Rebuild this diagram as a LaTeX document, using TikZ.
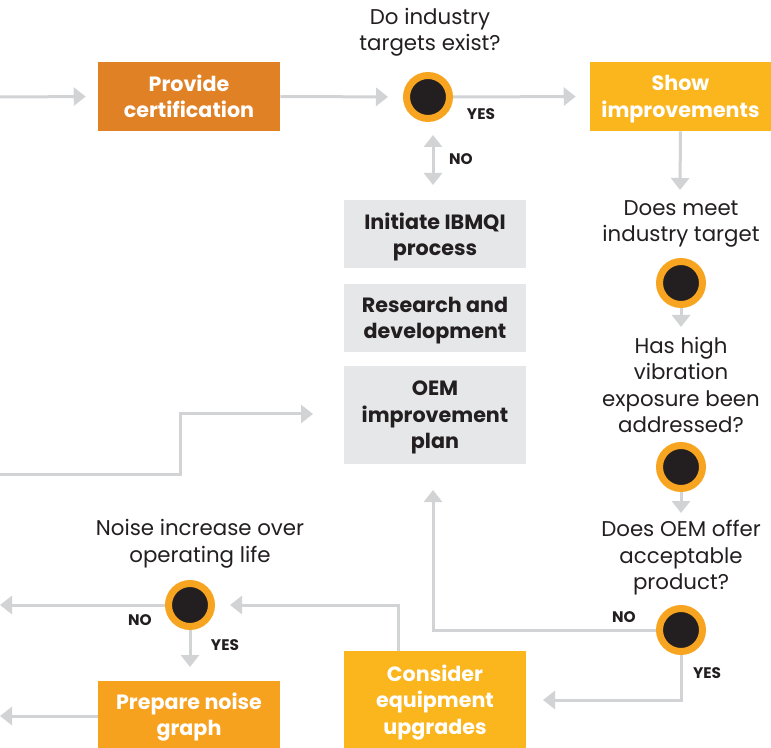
\documentclass[tikz,border=0pt]{standalone}
\usepackage{fontspec}
\setmainfont{Poppins}
\usetikzlibrary{arrows.meta}
\definecolor{arrgray}{HTML}{D1D3D4}
\definecolor{boxgray}{HTML}{E6E7E8}
\definecolor{darktext}{HTML}{231F20}
\definecolor{certorange}{HTML}{E08126}
\definecolor{yelloworange}{HTML}{FBB51D}
\definecolor{noiseorange}{HTML}{F7A21F}
\definecolor{ringorange}{HTML}{F7A521}
\tikzset{
  arr/.style={draw=arrgray, line width=2.25pt, -{Triangle[length=9pt,width=13.5pt]}},
  dblarr/.style={draw=arrgray, line width=2.25pt, {Triangle[length=9pt,width=13.5pt]}-{Triangle[length=9pt,width=13.5pt]}},
  box/.style={rectangle, inner sep=0pt, minimum width=136.5pt, align=center, text=white, text depth=0pt, font=\fontsize{15.5}{19.8}\selectfont\bfseries},
  graybox/.style={box, fill=boxgray, text=darktext},
  decision/.style={circle, fill=darktext, draw=ringorange, line width=5.25pt, minimum size=32.25pt, inner sep=0pt, outer sep=2.625pt},
  question/.style={align=center, text=darktext, font=\fontsize{16}{19.9}\selectfont},
  answer/.style={text=darktext, font=\fontsize{11.5}{13}\selectfont\bfseries, inner sep=0pt}
}
\begin{document}
\begin{tikzpicture}[x=0.75pt,y=-0.75pt]
\useasboundingbox (0,0) rectangle (771,748);
% boxes
\node[box, fill=certorange, minimum height=51.75pt] (provide) at (189,96.5) {Provide\\certification};
\node[box, fill=yelloworange, minimum height=51.75pt, minimum width=135.75pt] (show) at (680.5,96.5) {Show\\improvements};
\node[graybox, minimum height=51pt] (initiate) at (435,234) {Initiate IBMQI\\process};
\node[graybox, minimum height=51pt] (research) at (435,318) {Research and\\development};
\node[graybox, minimum height=73.5pt] (oem) at (435,415) {OEM\\improvement\\plan};
\node[box, fill=yelloworange, minimum height=72.75pt] (consider) at (435,699.5) {Consider\\equipment\\upgrades};
\node[box, fill=noiseorange, minimum height=50.25pt] (prepare) at (189,714.5) {Prepare noise\\graph};
% decisions
\node[decision] (c1) at (428,97) {};
\node[decision] (c2) at (681,283) {};
\node[decision] (c3) at (681,467) {};
\node[decision] (c4) at (681,630) {};
\node[decision] (c5) at (190,605) {};
% questions
\node[question] (q1) at (430,32.5) {Do industry\\targets exist?};
\node[question] (q2) at (681,224) {Does meet\\industry target};
\node[question] (q3) at (681,385) {Has high\\vibration\\exposure been\\addressed?};
\node[question] (q4) at (681,558) {Does OEM offer\\acceptable\\product?};
\node[question] (q5) at (200,544) {Noise increase over\\operating life};
% answers
\node[answer] (yes1) at (481,114.5) {YES};
\node[answer] (no1) at (461,159) {NO};
\node[answer] (no4) at (624,617) {NO};
\node[answer] (yes4) at (707,673.5) {YES};
\node[answer] (no5) at (140,620.5) {NO};
\node[answer] (yes5) at (225,645) {YES};
% free-end coordinates
\coordinate (inL) at (0,97);
\coordinate (showTip) at (680,190);
\coordinate (dblTop) at (433,135);
\coordinate (dblBot) at (433,185);
\coordinate (c2Tip) at (681,327);
\coordinate (c3Tip) at (681,513);
\coordinate (oemTip) at (433,490);
\coordinate (c4Bend) at (681,700);
\coordinate (considerTip) at (543,700);
\coordinate (considerTop) at (398,651);
\coordinate (c5In) at (230,605);
\coordinate (outNo) at (0,605);
\coordinate (c5Tip) at (190,667);
\coordinate (outGraph) at (0,716);
\coordinate (inLow) at (0,474);
\coordinate (bendLow) at (180,414);
\coordinate (oemIn) at (313,414);
% connectors
\draw[arr, shorten >=9pt] (inL) -- (provide.west);
\draw[arr, shorten >=11.25pt] (provide.east) -- (c1.west);
\draw[arr, shorten >=10.5pt] (c1.east) -- (show.west);
\draw[arr] (show.south) -- (showTip);
\draw[dblarr] (dblTop) -- (dblBot);
\draw[arr] (c2.south) -- (c2Tip);
\draw[arr] (c3.south) -- (c3Tip);
\draw[arr] (c4.west) -| (oemTip);
\draw[arr] (c4.south) -- (c4Bend) -- (considerTip);
\draw[arr] (considerTop) |- (c5In);
\draw[arr] (c5.west) -- (outNo);
\draw[arr] (c5.south) -- (c5Tip);
\draw[arr] (prepare.west |- outGraph) -- (outGraph);
\draw[arr] (inLow) -| (bendLow) -- (oemIn);
\end{tikzpicture}
\end{document}
